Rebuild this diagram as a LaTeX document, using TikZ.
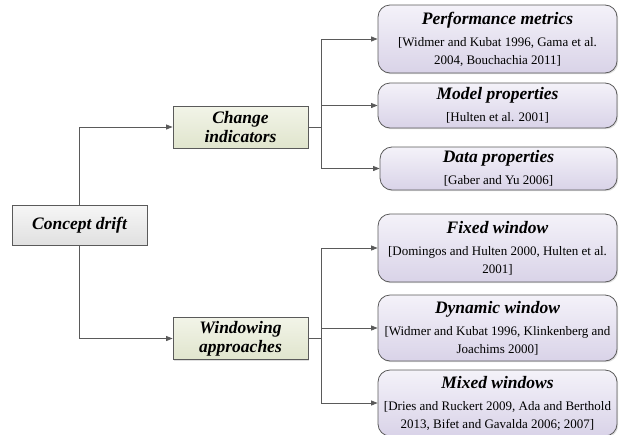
\documentclass[tikz,border=0pt]{standalone}
\usepackage{fontspec}
\setmainfont{Liberation Serif}
\usetikzlibrary{arrows.meta,shadows}
\definecolor{leaftop}{HTML}{F4F2F9}
\definecolor{leafbot}{HTML}{D9D3E8}
\definecolor{grouptop}{HTML}{F2F4E8}
\definecolor{groupbot}{HTML}{E0E5CD}
\definecolor{roottop}{HTML}{F6F6F6}
\definecolor{rootbot}{HTML}{E0E0E0}
\definecolor{edge}{HTML}{5A5A5A}
\newcommand{\headf}{\fontsize{17.5}{19}\selectfont\bfseries\itshape}
\newcommand{\citef}{\fontsize{13}{18}\selectfont}
\begin{document}
\begin{tikzpicture}[x=1pt,y=-1pt,
  box/.style={draw=edge, line width=0.8pt, align=center, inner sep=0pt,
    drop shadow={shadow xshift=1.2pt, shadow yshift=-1.2pt, opacity=0.25}},
  rootbox/.style={box, top color=roottop, bottom color=rootbot, font=\headf,
    minimum width=135pt, minimum height=40pt},
  groupbox/.style={box, top color=grouptop, bottom color=groupbot, font=\headf,
    minimum width=135pt, minimum height=42pt},
  leafbox/.style={box, rounded corners=12pt, top color=leaftop, bottom color=leafbot,
    font=\citef, minimum width=239pt},
  conn/.style={draw=edge, line width=0.8pt},
  arr/.style={conn, -{Triangle[length=6.5pt,width=5pt]}}
]
\useasboundingbox (0,0) rectangle (620,434);

% root and the two groups
\node[rootbox] (cd) at (79.5,225) {Concept drift};
\node[groupbox] (ci) at (240.5,127) {Change\\indicators};
\node[groupbox] (wa) at (240.5,338.5) {Windowing\\approaches};

% leaves of the first group
\node[leafbox, minimum height=68pt] (pm) at (497.5,39)
  {{\headf Performance metrics}\\[4pt][Widmer and Kubat 1996, Gama et al.\\2004, Bouchachia 2011]};
\node[leafbox, minimum height=45pt] (mp) at (497.5,105.5)
  {{\headf Model properties}\\[4pt][Hulten et al. 2001]};
\node[leafbox, minimum height=43pt, minimum width=237pt] (dp) at (498.5,168.5)
  {{\headf Data properties}\\[4pt][Gaber and Yu 2006]};

% leaves of the second group
\node[leafbox, minimum height=68pt] (fw) at (497.5,248)
  {{\headf Fixed window}\\[4pt][Domingos and Hulten 2000, Hulten et al.\\2001]};
\node[leafbox, minimum height=66pt] (dw) at (497.5,328)
  {{\headf Dynamic window}\\[4pt][Widmer and Kubat 1996, Klinkenberg and\\Joachims 2000]};
\node[leafbox, minimum height=66pt] (mw) at (497.5,403)
  {{\headf Mixed windows}\\[4pt][Dries and Ruckert 2009, Ada and Berthold\\2013, Bifet and Gavalda 2006; 2007]};

% connectors
\draw[arr] (cd.north) |- (ci.west);
\draw[arr] (cd.south) |- (wa.west);

\draw[conn] (ci.east) -- ++(13,0) coordinate (j1);
\draw[arr] (j1) |- (pm.west);
\draw[arr] (j1) |- (mp.west);
\draw[arr] (j1) |- (dp.west);

\draw[conn] (wa.east) -- ++(13,0) coordinate (j2);
\draw[arr] (j2) |- (fw.west);
\draw[arr] (j2) |- (dw.west);
\draw[arr] (j2) |- (mw.west);
\end{tikzpicture}
\end{document}
